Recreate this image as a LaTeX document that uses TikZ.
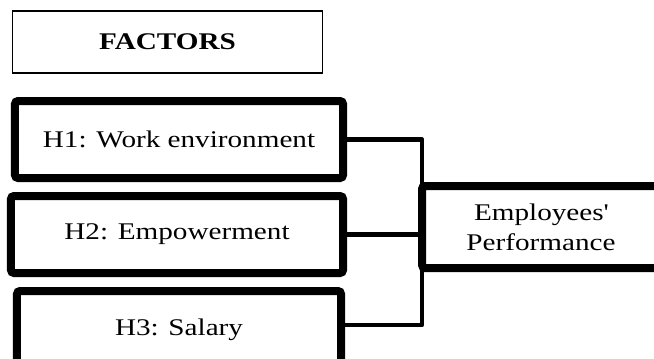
\documentclass[tikz,border=0pt]{standalone}
\usepackage{fontspec}
\setmainfont{Liberation Serif}
% widened Times-like face used for all labels
\newfontfamily\labelfont[FakeStretch=1.22]{Liberation Serif}
\usetikzlibrary{shadows}
\begin{document}
\begin{tikzpicture}[x=1bp,y=-1bp,
  titlebox/.style={draw, line width=1.2bp, inner sep=0pt,
    font=\labelfont\fontsize{24}{28}\selectfont\bfseries},
  factorbox/.style={draw, fill=white, line width=8bp, rounded corners=3bp, inner sep=0pt,
    font=\labelfont\fontsize{24}{28}\selectfont,
    drop shadow={opacity=0.35, shadow xshift=2bp, shadow yshift=-2.5bp}},
  link/.style={line width=4.5bp, line join=round}]
  \useasboundingbox (0,0) rectangle (654,358);
  \clip (0,0) rectangle (654,358);

  % heading
  \node[titlebox, minimum width=310bp, minimum height=62bp] (fac) at (167.5,42) {FACTORS};

  % junction points of the connectors
  \coordinate (j) at (422,139.5);
  \coordinate (h3link) at (345,325);

  % factor boxes
  \node[factorbox, minimum width=328bp, minimum height=77bp] (h1) at (179,139.5) {H1: Work environment};
  \node[factorbox, minimum width=332bp, minimum height=77bp] (h2) at (177,234.5) {H2: Empowerment};
  \node[factorbox, minimum width=324bp, minimum height=78bp] (h3) at (179,330) {H3: Salary};

  % outcome box
  \node[factorbox, minimum width=238bp, minimum height=82bp, align=center,
        font=\labelfont\fontsize{24}{30}\selectfont] (ep) at (541,227)
        {Employees\textquotesingle\\Performance};

  \draw[link] (h1.east) -- (j) |- (h3.east |- h3link);
  \draw[link] (h2.east) -- (h2.east -| ep.west);
\end{tikzpicture}
\end{document}
